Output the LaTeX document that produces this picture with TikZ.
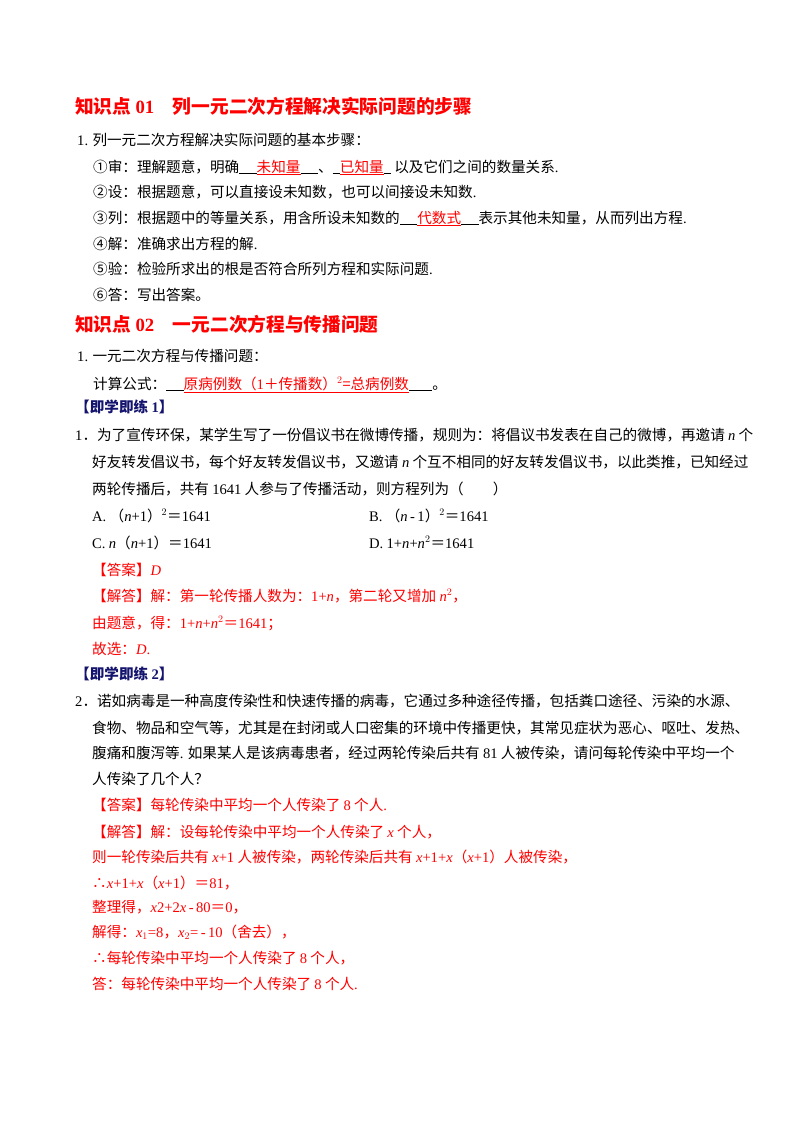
\documentclass[tikz,border=0pt]{standalone}
\usepackage{fontspec}
\setmainfont{Noto Sans CJK SC}
\newfontfamily\lat{Liberation Serif}
\newcommand\vi[1]{{\lat\itshape #1}}
\newcommand\la[1]{{\lat #1}}
\newcommand\blk[1]{\underline{\hspace{#1}}}
\newcommand\rul[1]{\textcolor{red}{\underline{#1}}}
\definecolor{hd}{RGB}{255,0,0}
\definecolor{nv}{RGB}{20,20,110}
\begin{document}
\begin{tikzpicture}[x=1pt,y=-1pt,
 txt/.style={anchor=base west,inner sep=0pt,font=\fontsize{14.6}{15}\selectfont},
 rtxt/.style={txt,text=red},
 head/.style={anchor=base west,inner sep=0pt,text=hd,font=\fontsize{18.7}{20}\selectfont\bfseries},
 tag/.style={anchor=base west,inner sep=0pt,text=nv,font=\fontsize{14.6}{15}\selectfont\bfseries}]
\useasboundingbox (0,0) rectangle (800,1132);
\node[head] (h1) at (75,113) {知识点 \la{01}\hspace{1em}列一元二次方程解决实际问题的步骤};
\node[txt] (a1) at (77,145) {\la{1.} 列一元二次方程解决实际问题的基本步骤：};
\node[txt] (a2) at (93,172) {①审：理解题意，明确\blk{1.2em}\rul{未知量}\blk{1.2em}、\blk{0.5em}\rul{已知量}\blk{0.5em}\ 以及它们之间的数量关系\la{.}};
\node[txt] (a3) at (93,197) {②设：根据题意，可以直接设未知数，也可以间接设未知数\la{.}};
\node[txt] (a4) at (93,223) {③列：根据题中的等量关系，用含所设未知数的\blk{1.2em}\rul{代数式}\blk{1.2em}表示其他未知量，从而列出方程\la{.}};
\node[txt] (a5) at (93,249) {④解：准确求出方程的解\la{.}};
\node[txt] (a6) at (93,274) {⑤验：检验所求出的根是否符合所列方程和实际问题\la{.}};
\node[txt] (a7) at (93,300) {⑥答：写出答案。};
\node[head] (h2) at (75,331) {知识点 \la{02}\hspace{1em}一元二次方程与传播问题};
\node[txt] (b1) at (77,361) {\la{1.} 一元二次方程与传播问题：};
\node[txt] (b2) at (93,389) {计算公式：\blk{1.2em}\rul{原病例数（\la{1}＋传播数）$^{2}$=总病例数}\blk{1.6em}。};
\node[tag] (t1) at (75,412) {【即学即练 \la{1}】};
\node[txt] (c1) at (75,440) {\la{1}．为了宣传环保，某学生写了一份倡议书在微博传播，规则为：将倡议书发表在自己的微博，再邀请 \vi{n} 个};
\node[txt] (c2) at (92,467) {好友转发倡议书，每个好友转发倡议书，又邀请 \vi{n} 个互不相同的好友转发倡议书，以此类推，已知经过};
\node[txt] (c3) at (92,494) {两轮传播后，共有 \la{1641} 人参与了传播活动，则方程列为（\hspace{2em}）};
\node[txt] (c4) at (92,521) {\la{A.}\ （\vi{n}\la{+1}）$^{2}$＝\la{1641}};
\node[txt] (c5) at (369,521) {\la{B.}\ （\vi{n}\,\la{-}\,\la{1}）$^{2}$＝\la{1641}};
\node[txt] (c6) at (92,548) {\la{C.}\ \vi{n}（\vi{n}\la{+1}）＝\la{1641}};
\node[txt] (c7) at (369,548) {\la{D.}\ \la{1+}\vi{n}\la{+}\vi{n}$^{2}$＝\la{1641}};
\node[rtxt] (c8) at (92,575) {【答案】\vi{D}};
\node[rtxt] (c9) at (92,601) {【解答】解：第一轮传播人数为：\la{1+}\vi{n}，第二轮又增加 \vi{n}$^{2}$，};
\node[rtxt] (c10) at (92,628) {由题意，得：\la{1+}\vi{n}\la{+}\vi{n}$^{2}$＝\la{1641}；};
\node[rtxt] (c11) at (92,654) {故选：\vi{D}\la{.}};
\node[tag] (t2) at (75,679) {【即学即练 \la{2}】};
\node[txt] (d1) at (75,706) {\la{2}．诺如病毒是一种高度传染性和快速传播的病毒，它通过多种途径传播，包括粪口途径、污染的水源、};
\node[txt] (d2) at (92,733) {食物、物品和空气等，尤其是在封闭或人口密集的环境中传播更快，其常见症状为恶心、呕吐、发热、};
\node[txt] (d3) at (92,758) {腹痛和腹泻等\la{.} 如果某人是该病毒患者，经过两轮传染后共有 \la{81} 人被传染，请问每轮传染中平均一个};
\node[txt] (d4) at (92,784) {人传染了几个人？};
\node[rtxt] (d5) at (92,810) {【答案】每轮传染中平均一个人传染了 \la{8} 个人\la{.}};
\node[rtxt] (d6) at (92,837) {【解答】解：设每轮传染中平均一个人传染了 \vi{x} 个人，};
\node[rtxt] (d7) at (92,862) {则一轮传染后共有 \vi{x}\la{+1} 人被传染，两轮传染后共有 \vi{x}\la{+1+}\vi{x}（\vi{x}\la{+1}）人被传染，};
\node[rtxt] (d8) at (92,888) {∴\vi{x}\la{+1+}\vi{x}（\vi{x}\la{+1}）＝\la{81}，};
\node[rtxt] (d9) at (92,912) {整理得，\vi{x}\la{2+2}\vi{x}\,\la{-}\,\la{80}＝\la{0}，};
\node[rtxt] (d10) at (92,937) {解得：\vi{x}$_{1}$\la{=8}，\vi{x}$_{2}$\la{=}\,\la{-}\,\la{10}（舍去），};
\node[rtxt] (d11) at (92,963) {∴每轮传染中平均一个人传染了 \la{8} 个人，};
\node[rtxt] (d12) at (92,989) {答：每轮传染中平均一个人传染了 \la{8} 个人\la{.}};
\end{tikzpicture}
\end{document}
